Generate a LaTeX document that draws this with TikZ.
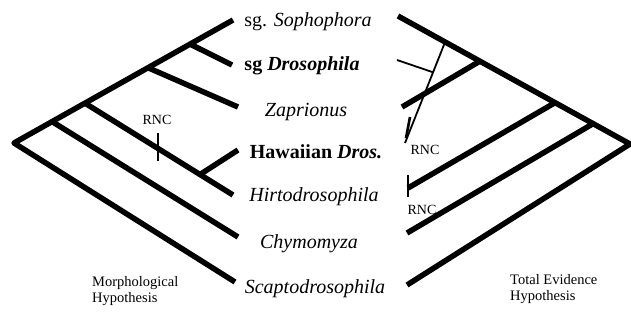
\documentclass[tikz,border=0pt]{standalone}
\usepackage{fontspec}
\setmainfont{Liberation Serif}
\usetikzlibrary{calc}
\tikzset{
  branch/.style={line width=5.5pt, line join=round},
  twig/.style={line width=1.8pt},
  rnctick/.style={line width=2.6pt},
  taxon/.style={font=\fontsize{20}{24}\selectfont, anchor=base, inner sep=0pt},
  rnc/.style={font=\fontsize{14}{16}\selectfont, inner sep=0pt},
  hyp/.style={font=\fontsize{14.5}{16}\selectfont, align=left, anchor=base west, inner sep=0pt},
}

\begin{document}
\begin{tikzpicture}[x=1pt, y=-1pt]
  \useasboundingbox (0,0) rectangle (631,324);
  % taxa in the middle
  \node[taxon] (soph) at (308,26) {sg. \textit{Sophophora}};
  \node[taxon] (dros) at (302,70) {\textbf{sg \textit{Drosophila}}};
  \node[taxon] (zapr) at (306,116) {\textit{Zaprionus}};
  \node[taxon] (hawa) at (316,158) {\textbf{Hawaiian \textit{Dros.}}};
  \node[taxon] (hirt) at (314,201) {\textit{Hirtodrosophila}};
  \node[taxon] (chym) at (309,248) {\textit{Chymomyza}};
  \node[taxon] (scap) at (315,293) {\textit{Scaptodrosophila}};

  % morphological hypothesis (left)
  \coordinate (m0) at (14,143);
  \coordinate (mSoph) at (233,20);
  \coordinate (mDros) at (232,65);
  \coordinate (mZapr) at (238,107);
  \coordinate (mHawa) at (238,150);
  \coordinate (mHirt) at (233,195);
  \coordinate (mChym) at (238,237);
  \coordinate (mScap) at (235,282);
  \coordinate (m1) at ($(m0)!0.174!(mSoph)$);
  \coordinate (m2) at ($(m0)!0.324!(mSoph)$);
  \coordinate (m3) at ($(m0)!0.612!(mSoph)$);
  \coordinate (m4) at ($(m0)!0.804!(mSoph)$);
  \coordinate (m5) at ($(m2)!0.777!(mHirt)$);
  \coordinate (mTop) at (158,133);
  \coordinate (mBot) at (158,161);
  \draw[branch] (mSoph) -- (m0) -- (mScap);
  \draw[branch] (m1) -- (mChym);
  \draw[branch] (m2) -- (mHirt);
  \draw[branch] (m5) -- (mHawa);
  \draw[branch] (m3) -- (mZapr);
  \draw[branch] (m4) -- (mDros);
  \draw[rnctick] (mTop) -- (mBot);
  \node[rnc] (mRnc) at (157,120) {RNC};
  \node[hyp] (mHyp) at (92,302) {Morphological\\Hypothesis};

  % total evidence hypothesis (right)
  \coordinate (r0) at (630,144);
  \coordinate (rSoph) at (398,16);
  \coordinate (rDros) at (397,60);
  \coordinate (rZapr) at (402,107);
  \coordinate (rHawa) at (405,143);
  \coordinate (rHirt) at (408,188);
  \coordinate (rChym) at (407,233);
  \coordinate (rScap) at (407,285);
  \coordinate (r1) at ($(r0)!0.159!(rSoph)$);
  \coordinate (r2) at ($(r0)!0.323!(rSoph)$);
  \coordinate (r3) at ($(r0)!0.647!(rSoph)$);
  \coordinate (r4) at ($(r0)!0.797!(rSoph)$);
  \coordinate (r5) at ($(r4)!0.3!(rHawa)$);
  \draw[branch] (rSoph) -- (r0) -- (rScap);
  \draw[branch] (r1) -- (rChym);
  \draw[branch] (r2) -- (rHirt);
  \draw[branch] (r3) -- (rZapr);
  \draw[twig] (r4) -- (rHawa);
  \draw[twig] (rDros) -- (r5);
  \coordinate (rTopA) at (410,117);
  \coordinate (rBotA) at (406,138);
  \coordinate (rTopB) at (408,175);
  \coordinate (rBotB) at (408,197);
  \draw[rnctick] (rTopA) -- (rBotA);
  \draw[rnctick] (rTopB) -- (rBotB);
  \node[rnc] (rRncA) at (425,150) {RNC};
  \node[rnc] (rRncB) at (422,210) {RNC};
  \node[hyp] (rHyp) at (510,300) {Total Evidence\\Hypothesis};
\end{tikzpicture}
\end{document}
